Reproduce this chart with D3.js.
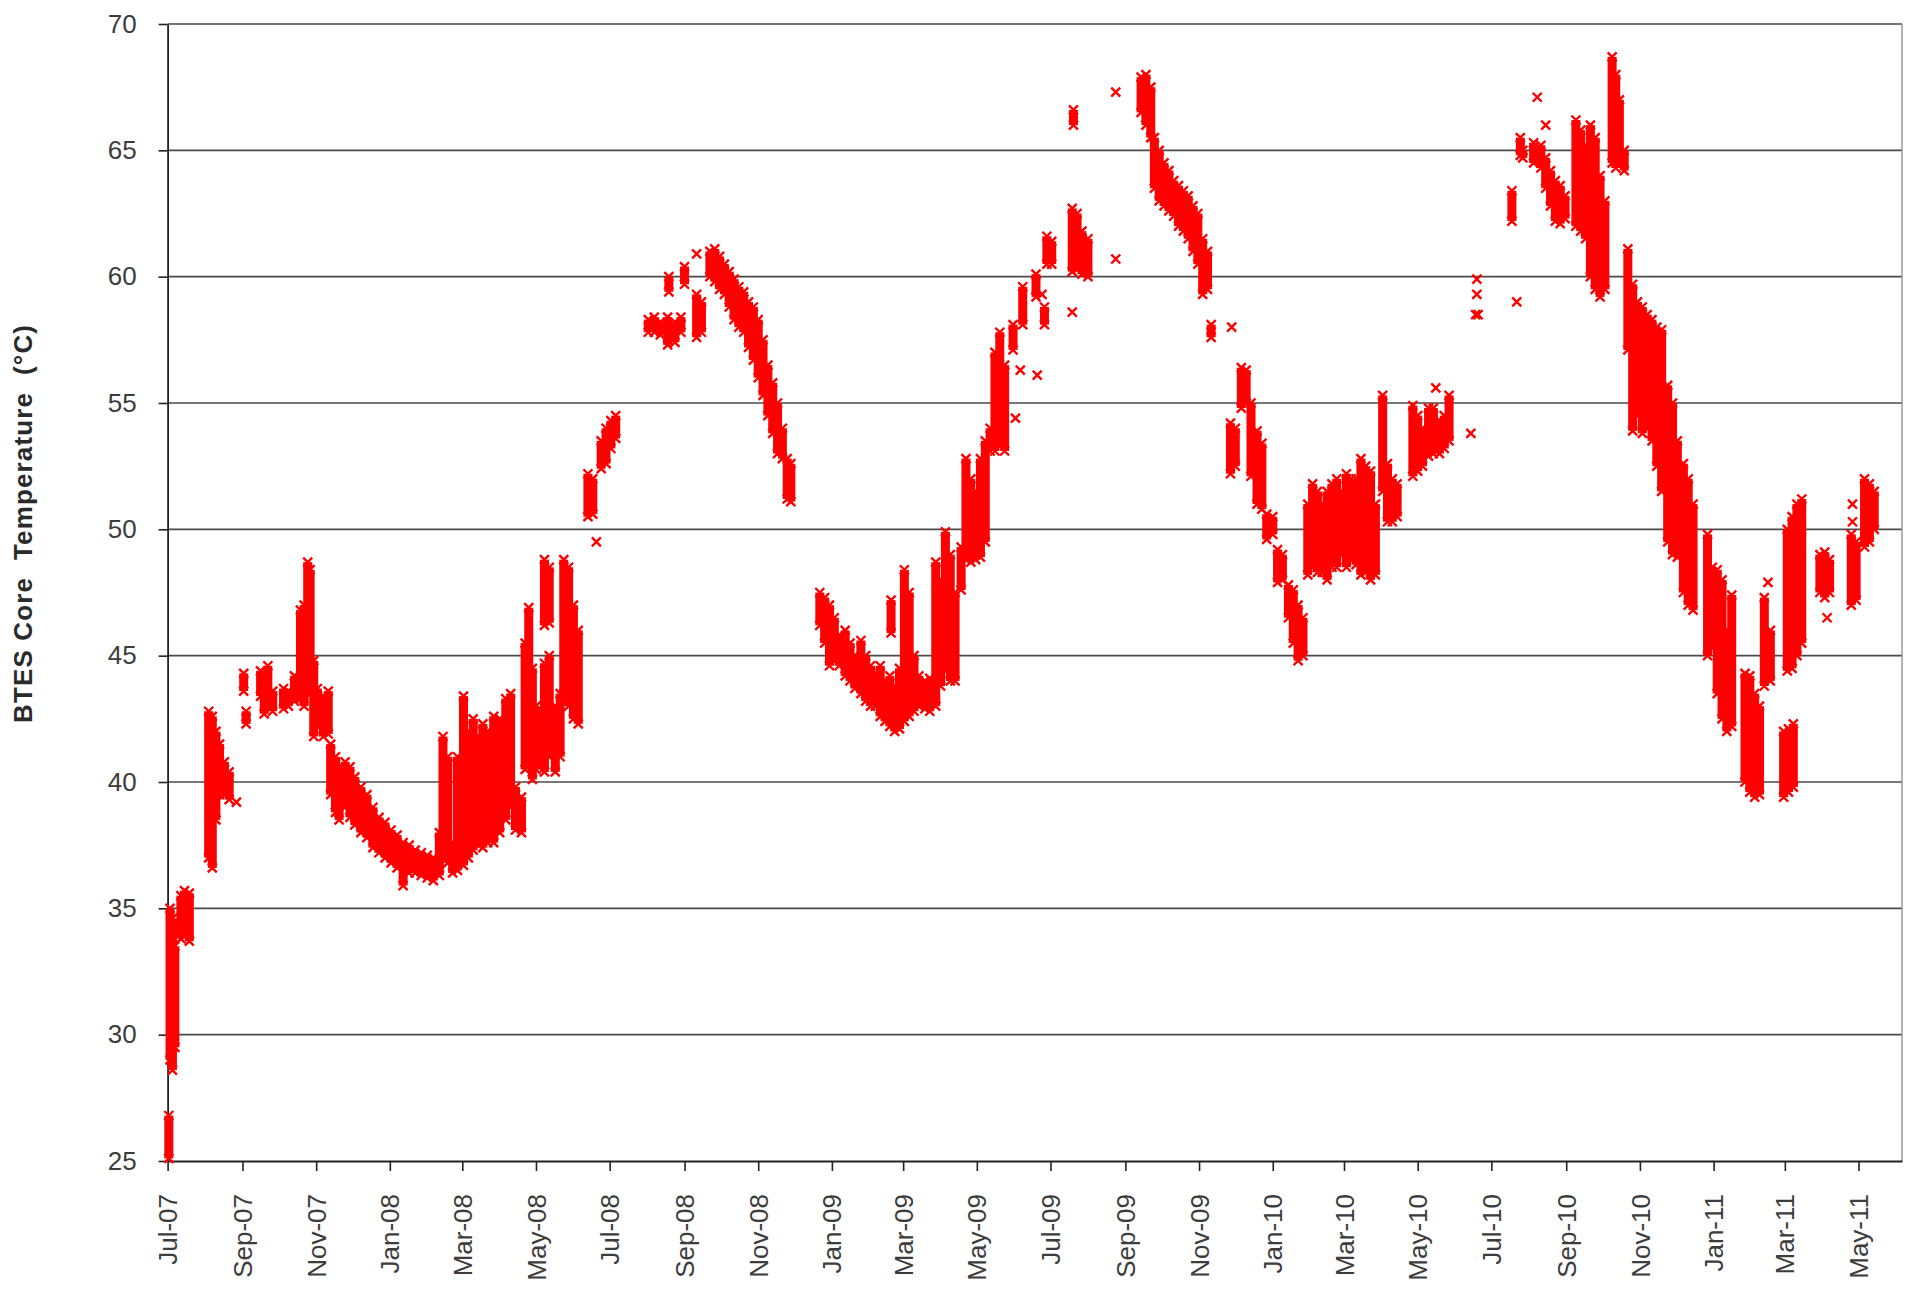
<!DOCTYPE html>
<html>
<head>
<meta charset="utf-8">
<script src="https://cdn.jsdelivr.net/npm/d3@7/dist/d3.min.js"></script>
<style>
  html, body { margin: 0; padding: 0; background: #fff; }
  svg { display: block; }
  text { font-family: Arial, "Liberation Sans", sans-serif; }
</style>
</head>
<body>
<svg id="chart" width="1906" height="1295"></svg>
<script>
// ---- Data: [date, low °C, high °C] of the readings cluster on that date ----
const readings2007 = [
  ["2007-07-02",25.1,26.8],["2007-07-03",29.0,35.0],["2007-07-05",28.6,34.6],["2007-07-07",29.5,33.5],
  ["2007-07-12",33.8,35.5],["2007-07-15",33.9,35.7],["2007-07-19",33.7,35.6],
  ["2007-08-04",37.0,42.8],["2007-08-07",36.6,42.6],["2007-08-10",38.5,42.0],["2007-08-13",39.5,41.5],
  ["2007-08-17",39.5,40.8],["2007-08-21",39.3,40.4],["2007-08-27",39.2,39.2],
  ["2007-09-02",43.6,44.3],["2007-09-04",42.3,42.8],["2007-09-16",43.4,44.4],["2007-09-19",42.7,43.9],
  ["2007-09-22",43.2,44.6],["2007-09-26",42.8,43.6],["2007-10-05",42.9,43.7],["2007-10-09",43.0,43.6],
  ["2007-10-14",43.2,44.2],["2007-10-19",43.3,46.8],["2007-10-22",43.0,47.0],["2007-10-25",43.8,48.7],
  ["2007-10-27",43.5,48.4],["2007-10-30",41.8,44.8],["2007-11-02",42.2,43.7],["2007-11-07",41.8,43.4],
  ["2007-11-11",41.9,43.6],["2007-11-13",39.5,41.5],["2007-11-17",38.8,41.0],["2007-11-20",38.5,40.6],
  ["2007-11-25",39.0,40.8],["2007-11-29",38.6,40.6],["2007-12-03",38.3,40.2],["2007-12-08",38.0,39.8],
  ["2007-12-13",37.8,39.5],["2007-12-18",37.4,39.0],["2007-12-23",37.2,38.6],["2007-12-28",37.0,38.4]
];
const readings2008 = [
  ["2008-01-02",36.8,38.1],["2008-01-07",36.6,37.9],["2008-01-12",35.9,37.6],["2008-01-17",36.4,37.5],
  ["2008-01-22",36.4,37.3],["2008-01-27",36.3,37.2],["2008-02-01",36.2,37.1],["2008-02-06",36.1,37.0],
  ["2008-02-11",36.3,38.0],["2008-02-14",37.2,41.8],["2008-02-18",36.8,41.0],["2008-02-22",36.4,37.6],
  ["2008-02-26",36.5,41.0],["2008-03-02",36.7,43.4],["2008-03-06",37.0,42.0],["2008-03-10",37.3,42.5],
  ["2008-03-14",37.5,41.8],["2008-03-18",37.4,42.3],["2008-03-22",37.6,42.0],["2008-03-27",37.6,42.6],
  ["2008-04-01",38.0,42.5],["2008-04-06",38.5,43.3],["2008-04-10",39.0,43.5],["2008-04-14",38.1,39.8],
  ["2008-04-19",38.0,39.4],["2008-04-22",40.5,45.5],["2008-04-25",41.0,46.9],["2008-04-28",40.1,44.5],
  ["2008-05-01",40.5,43.0],["2008-05-08",46.2,48.8],["2008-05-08",40.4,44.7],["2008-05-12",46.3,48.5],
  ["2008-05-12",41.0,45.0],["2008-05-17",40.4,43.0],["2008-05-21",41.0,43.5],["2008-05-24",43.5,48.8],
  ["2008-05-28",43.0,48.5],["2008-06-01",42.5,47.0],["2008-06-05",42.3,46.0],
  ["2008-06-13",50.5,52.2],["2008-06-17",50.6,52.0],["2008-06-20",49.5,49.5],["2008-06-24",52.4,53.5],
  ["2008-06-28",52.6,54.0],["2008-07-02",53.2,54.3],["2008-07-06",53.6,54.5],
  ["2008-08-02",57.8,58.3],["2008-08-07",57.8,58.4],["2008-08-12",57.7,58.2],["2008-08-18",57.3,58.4],
  ["2008-08-19",59.4,60.0],["2008-08-24",57.4,58.2],["2008-08-29",57.8,58.4],["2008-09-01",59.7,60.4],
  ["2008-09-11",57.6,59.3],["2008-09-11",60.9,60.9],["2008-09-15",57.8,59.0],["2008-09-22",60.0,61.0],
  ["2008-09-26",59.8,61.1],["2008-09-30",59.5,60.8],["2008-10-04",59.3,60.5],["2008-10-08",58.8,60.2],
  ["2008-10-12",58.3,59.9],["2008-10-16",58.0,59.6],["2008-10-20",57.8,59.4],["2008-10-24",57.2,59.0],
  ["2008-10-28",56.7,58.8],["2008-11-01",56.0,58.3],["2008-11-05",55.3,57.5],["2008-11-09",54.5,56.5],
  ["2008-11-13",53.8,55.8],["2008-11-17",53.0,55.0],["2008-11-21",52.8,54.0],["2008-11-25",51.2,52.8],
  ["2008-11-28",51.1,52.6],
  ["2008-12-22",46.2,47.5],["2008-12-26",45.5,47.3],["2008-12-30",44.6,47.0]
];
const readings2009 = [
  ["2009-01-03",44.8,46.5],["2009-01-07",44.6,45.8],["2009-01-12",44.2,46.0],["2009-01-16",44.0,45.5],
  ["2009-01-20",43.7,45.0],["2009-01-25",43.5,45.6],["2009-01-29",43.2,45.0],["2009-02-02",43.0,44.6],
  ["2009-02-06",43.0,44.3],["2009-02-10",42.6,44.6],["2009-02-14",42.4,44.0],["2009-02-18",42.2,44.2],
  ["2009-02-19",45.9,47.2],["2009-02-22",42.0,43.8],["2009-02-26",42.1,44.5],["2009-03-02",42.4,48.4],
  ["2009-03-06",42.6,47.5],["2009-03-10",42.8,45.0],["2009-03-14",43.0,44.2],["2009-03-19",42.9,44.0],
  ["2009-03-23",42.8,44.1],["2009-03-28",43.0,48.7],["2009-04-01",43.8,48.0],["2009-04-05",44.4,49.9],
  ["2009-04-09",44.0,49.0],["2009-04-13",44.0,47.5],["2009-04-18",47.6,49.3],["2009-04-22",48.8,52.8],
  ["2009-04-26",48.7,52.0],["2009-04-30",48.8,51.5],["2009-05-04",48.9,52.8],["2009-05-08",49.5,53.5],
  ["2009-05-12",53.1,54.0],["2009-05-16",53.1,57.0],["2009-05-20",53.3,57.8],["2009-05-24",53.1,56.5],
  ["2009-05-31",57.1,58.1],["2009-06-02",54.4,54.4],["2009-06-06",56.3,56.3],["2009-06-08",58.1,59.6],
  ["2009-06-19",59.2,60.1],["2009-06-20",56.1,56.1],["2009-06-24",59.3,59.3],["2009-06-26",58.1,58.8],
  ["2009-06-28",60.5,61.6],["2009-07-02",60.5,61.4],
  ["2009-07-19",60.2,62.7],["2009-07-20",66.0,66.6],["2009-07-19",58.6,58.6],["2009-07-23",60.3,62.5],
  ["2009-07-27",60.1,61.8],["2009-08-01",60.0,61.5],["2009-08-24",67.3,67.3],["2009-08-24",60.7,60.7],
  ["2009-09-14",66.5,67.9],["2009-09-18",66.0,68.0],["2009-09-22",65.5,67.5],["2009-09-25",63.5,65.5],
  ["2009-09-29",63.0,65.0],["2009-10-03",62.8,64.5],["2009-10-07",62.6,64.2],["2009-10-11",62.4,63.8],
  ["2009-10-15",62.0,63.6],["2009-10-19",61.8,63.4],["2009-10-23",61.5,63.2],["2009-10-27",61.0,62.8],
  ["2009-10-31",60.5,62.5],["2009-11-04",59.3,61.5],["2009-11-08",59.5,61.0],["2009-11-11",57.6,58.1],
  ["2009-11-28",58.0,58.0],["2009-11-27",52.2,54.2],["2009-12-01",52.5,54.0],["2009-12-06",54.8,56.4],
  ["2009-12-10",55.0,56.3],["2009-12-14",52.1,55.0],["2009-12-19",51.0,53.9],["2009-12-23",50.8,53.4],
  ["2009-12-27",49.6,50.6]
];
const readings2010 = [
  ["2010-01-01",49.8,50.5],["2010-01-05",47.9,49.2],["2010-01-09",48.0,49.0],["2010-01-14",46.5,47.8],
  ["2010-01-18",45.5,47.6],["2010-01-22",44.8,47.0],["2010-01-26",45.0,46.5],["2010-01-30",48.2,51.0],
  ["2010-02-03",48.5,51.8],["2010-02-07",48.3,51.5],["2010-02-11",48.3,51.0],["2010-02-15",48.0,51.5],
  ["2010-02-19",48.5,51.8],["2010-02-23",48.5,52.0],["2010-02-27",49.0,51.5],["2010-03-03",48.5,52.2],
  ["2010-03-07",48.8,52.0],["2010-03-11",48.6,52.0],["2010-03-15",48.2,52.8],["2010-03-19",48.3,52.5],
  ["2010-03-23",48.0,52.3],["2010-03-27",48.2,51.0],["2010-04-02",51.5,55.3],["2010-04-06",50.3,52.6],
  ["2010-04-10",50.3,52.0],["2010-04-14",50.5,51.8],["2010-04-27",52.1,54.9],["2010-05-01",52.3,54.5],
  ["2010-05-05",52.5,54.0],["2010-05-10",52.9,54.8],["2010-05-14",53.0,54.8],["2010-05-16",55.6,55.6],
  ["2010-05-19",53.0,54.3],["2010-05-23",53.2,54.5],["2010-05-27",53.5,55.3],["2010-06-14",53.8,53.8],
  ["2010-06-18",58.5,58.5],["2010-06-20",58.5,58.5],["2010-06-19",59.9,59.9],["2010-06-19",59.3,59.3],
  ["2010-07-18",62.2,63.4],["2010-07-22",59.0,59.0],["2010-07-25",64.8,65.5],["2010-07-27",64.7,65.0],
  ["2010-08-05",64.5,65.3],["2010-08-08",67.1,67.1],["2010-08-11",64.3,65.2],["2010-08-15",66.0,66.0],
  ["2010-08-15",63.5,64.7],["2010-08-19",62.8,64.2],["2010-08-23",62.2,63.8],["2010-08-27",62.1,63.6],
  ["2010-08-31",62.3,63.2],["2010-09-09",62.0,66.2],["2010-09-13",61.8,65.8],["2010-09-17",61.5,65.2],
  ["2010-09-21",60.0,66.0],["2010-09-25",59.5,65.5],["2010-09-29",59.2,64.0],["2010-10-03",59.5,63.0],
  ["2010-10-09",64.5,68.7],["2010-10-12",64.3,68.0],["2010-10-15",64.5,67.0],["2010-10-19",64.2,65.0],
  ["2010-10-22",57.1,61.1],["2010-10-26",53.9,59.7],["2010-10-30",54.5,59.0],["2010-11-03",53.8,58.8],
  ["2010-11-07",54.0,58.5],["2010-11-11",53.5,58.3],["2010-11-15",52.5,58.0],["2010-11-19",51.5,57.9],
  ["2010-11-24",49.5,55.7],["2010-11-28",49.0,55.0],["2010-12-02",48.9,53.5],["2010-12-07",47.5,52.6],
  ["2010-12-11",47.0,52.0],["2010-12-15",46.8,51.0],["2010-12-27",45.0,49.8],["2010-12-31",45.3,48.5]
];
const readings2011 = [
  ["2011-01-04",43.5,48.4],["2011-01-08",42.5,48.0],["2011-01-12",42.0,46.0],["2011-01-16",42.2,47.4],
  ["2011-01-27",40.0,44.3],["2011-01-31",39.6,44.2],["2011-02-04",39.4,43.5],["2011-02-08",39.5,43.0],
  ["2011-02-12",43.8,47.3],["2011-02-15",47.9,47.9],["2011-02-17",44.0,46.0],
  ["2011-02-28",39.4,42.0],["2011-03-04",39.6,42.1],["2011-03-08",39.8,42.3],
  ["2011-03-03",44.4,50.0],["2011-03-07",44.5,50.5],["2011-03-11",45.0,51.0],["2011-03-15",45.5,51.2],
  ["2011-03-30",47.5,49.0],["2011-04-03",47.3,49.1],["2011-04-07",47.5,48.8],["2011-04-05",46.5,46.5],
  ["2011-04-25",47.0,49.8],["2011-04-29",47.2,49.5],["2011-04-26",51.0,51.0],["2011-04-26",50.3,50.3],
  ["2011-05-06",49.3,52.0],["2011-05-10",49.5,51.8],["2011-05-14",50.0,51.5]
];

const yTicks = [25, 30, 35, 40, 45, 50, 55, 60, 65, 70];
const xTickLabels = ["Jul-07","Sep-07","Nov-07","Jan-08","Mar-08","May-08","Jul-08","Sep-08",
  "Nov-08","Jan-09","Mar-09","May-09","Jul-09","Sep-09","Nov-09","Jan-10","Mar-10","May-10",
  "Jul-10","Sep-10","Nov-10","Jan-11","Mar-11","May-11"];
const xDomain = ["2007-07-01", "2011-06-06"];
const yTitle = "BTES Core  Temperature  (°C)";

// ---- Layout ----
const plot = { left: 167.6, right: 1902, top: 24, bottom: 1161 };
const parseDate = d3.utcParse("%Y-%m-%d");
const parseTick = d3.utcParse("%b-%y");

const x = d3.scaleUtc().domain(xDomain.map(parseDate)).range([plot.left, plot.right]);
const y = d3.scaleLinear().domain([25, 70]).range([plot.bottom, plot.top]);

const svg = d3.select("#chart");
const textColor = "#3c3c3c";

// gridlines
svg.append("g").selectAll("line").data(yTicks.filter(t => t > 25)).join("line")
  .attr("x1", plot.left).attr("x2", plot.right)
  .attr("y1", d => y(d)).attr("y2", d => y(d))
  .attr("stroke", "#4a4a4a").attr("stroke-width", 1.6);

// right border
svg.append("line").attr("x1", plot.right).attr("x2", plot.right)
  .attr("y1", plot.top).attr("y2", plot.bottom)
  .attr("stroke", "#8a8a8a").attr("stroke-width", 1.3);

// y axis
const yAxis = svg.append("g").attr("transform", `translate(${plot.left},0)`)
  .call(d3.axisLeft(y).tickValues(yTicks).tickSize(9).tickPadding(22).tickSizeOuter(0));
yAxis.select(".domain").attr("stroke", "#222").attr("stroke-width", 1.8);
yAxis.selectAll(".tick line").attr("stroke", "#222").attr("stroke-width", 1.6);
yAxis.selectAll(".tick text").attr("font-size", 26).attr("fill", textColor)
  .attr("font-family", "Arial, 'Liberation Sans', sans-serif");

// x axis
const xTickDates = xTickLabels.map(parseTick);
const xAxis = svg.append("g").attr("transform", `translate(0,${plot.bottom})`)
  .call(d3.axisBottom(x).tickValues(xTickDates).tickFormat((d, i) => xTickLabels[i])
    .tickSize(10).tickSizeOuter(0));
xAxis.select(".domain").attr("stroke", "#222").attr("stroke-width", 1.8);
xAxis.selectAll(".tick line").attr("stroke", "#222").attr("stroke-width", 1.6);
xAxis.selectAll(".tick text")
  .attr("font-size", 26).attr("fill", textColor)
  .attr("font-family", "Arial, 'Liberation Sans', sans-serif")
  .attr("text-anchor", "end")
  .attr("transform", "rotate(-90)")
  .attr("x", -33).attr("y", 0).attr("dy", "0.35em");

// y title
svg.append("text")
  .attr("transform", `translate(23,524) rotate(-90)`)
  .attr("text-anchor", "middle").attr("dy", "0.35em")
  .attr("font-size", 26).attr("font-weight", "bold").attr("fill", "#2a2a2a")
  .attr("textLength", 398).attr("lengthAdjust", "spacing")
  .style("white-space", "pre")
  .text(yTitle);

// ---- Data marks ----
const all = [].concat(readings2007, readings2008, readings2009, readings2010, readings2011)
  .map(([d, lo, hi]) => ({ date: parseDate(d), lo, hi }));

const red = "#ff0000";
const half = 4.5;
const marks = svg.append("g");

// vertical spread of readings on a date
marks.selectAll("rect").data(all.filter(d => d.hi > d.lo)).join("rect")
  .attr("x", d => x(d.date) - half)
  .attr("width", half * 2)
  .attr("y", d => y(d.hi))
  .attr("height", d => y(d.lo) - y(d.hi))
  .attr("fill", red);

// x-shaped markers at the ends of each spread (and single readings)
const ends = [];
all.forEach(d => {
  ends.push({ date: d.date, v: d.hi });
  if (d.hi > d.lo) ends.push({ date: d.date, v: d.lo });
});
const xMark = `M${-half},${-half}L${half},${half}M${-half},${half}L${half},${-half}`;
marks.selectAll("path").data(ends).join("path")
  .attr("transform", d => `translate(${x(d.date)},${y(d.v)})`)
  .attr("d", xMark)
  .attr("stroke", red).attr("stroke-width", 2.4).attr("fill", "none");
</script>
</body>
</html>
